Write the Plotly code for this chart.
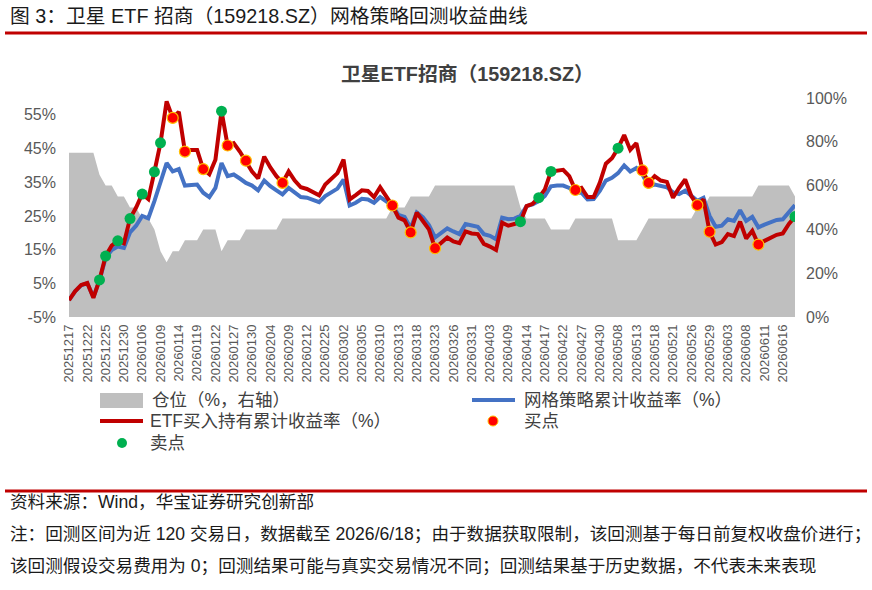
import plotly.graph_objects as go

dates = [
    "20251217", "20251218", "20251219", "20251222", "20251223", "20251224",
    "20251225", "20251226", "20251229", "20251230", "20251231", "20260105",
    "20260106", "20260107", "20260108", "20260109", "20260112", "20260113",
    "20260114", "20260115", "20260116", "20260119", "20260120", "20260121",
    "20260122", "20260123", "20260126", "20260127", "20260128", "20260129",
    "20260130", "20260202", "20260203", "20260204", "20260205", "20260206",
    "20260209", "20260210", "20260211", "20260212", "20260213", "20260224",
    "20260225", "20260226", "20260227", "20260302", "20260303", "20260304",
    "20260305", "20260306", "20260309", "20260310", "20260311", "20260312",
    "20260313", "20260316", "20260317", "20260318", "20260319", "20260320",
    "20260323", "20260324", "20260325", "20260326", "20260327", "20260330",
    "20260331", "20260401", "20260402", "20260403", "20260407", "20260408",
    "20260409", "20260410", "20260413", "20260414", "20260415", "20260416",
    "20260417", "20260420", "20260421", "20260422", "20260423", "20260424",
    "20260427", "20260428", "20260429", "20260430", "20260506", "20260507",
    "20260508", "20260511", "20260512", "20260513", "20260514", "20260515",
    "20260518", "20260519", "20260520", "20260521", "20260522", "20260525",
    "20260526", "20260527", "20260528", "20260529", "20260601", "20260602",
    "20260603", "20260604", "20260605", "20260608", "20260609", "20260610",
    "20260611", "20260612", "20260615", "20260616", "20260617", "20260618",
]

# ETF buy-and-hold cumulative return (%)
etf_return = [
    0.0, 2.6, 4.5, 5.1, 0.7, 6.0, 13.1, 16.2, 17.6, 16.9,
    24.2, 27.5, 31.5, 30.0, 38.1, 46.7, 59.0, 54.1, 55.9, 44.1,
    44.6, 44.6, 38.9, 37.4, 41.7, 56.1, 45.9, 46.6, 44.1, 41.4,
    38.2, 36.1, 42.6, 39.4, 36.8, 34.8, 38.2, 35.5, 33.5, 33.0,
    32.1, 31.1, 34.3, 36.1, 37.7, 41.7, 29.9, 31.2, 32.6, 32.4,
    30.6, 33.5, 30.9, 28.1, 24.5, 23.7, 20.1, 26.0, 23.5, 21.0,
    15.4, 17.2, 18.6, 17.4, 16.9, 20.4, 19.8, 19.6, 16.7, 15.9,
    14.9, 23.0, 22.1, 22.6, 23.3, 27.9, 28.6, 30.4, 32.9, 38.2,
    38.4, 38.7, 36.8, 32.7, 33.3, 30.6, 30.6, 34.8, 40.5, 42.1,
    45.1, 49.0, 44.6, 46.6, 38.5, 34.8, 36.8, 35.5, 35.1, 30.4,
    33.3, 35.8, 30.9, 28.2, 29.9, 20.3, 16.5, 17.2, 19.6, 19.0,
    23.3, 18.3, 20.6, 16.5, 17.6, 18.6, 19.4, 19.8, 22.6, 24.8,
]

# Grid strategy cumulative return (%)
grid_return = [
    0.0, 2.6, 4.4, 5.0, 0.9, 5.9, 12.5, 14.9, 15.9, 15.5,
    20.1, 22.1, 25.0, 24.3, 29.4, 35.3, 40.7, 38.2, 38.9, 34.0,
    34.3, 34.3, 31.9, 30.6, 33.3, 40.7, 36.8, 37.3, 36.1, 34.8,
    34.0, 32.6, 35.5, 33.8, 32.6, 31.4, 33.3, 31.9, 30.6, 30.4,
    29.9, 29.1, 30.9, 32.1, 33.1, 35.8, 28.1, 28.9, 30.1, 29.9,
    28.9, 30.6, 29.4, 28.1, 25.3, 24.7, 21.4, 26.0, 24.6, 22.3,
    18.6, 20.1, 21.3, 20.4, 19.6, 22.6, 22.1, 21.8, 19.6, 19.1,
    18.1, 24.5, 24.0, 24.2, 25.0, 27.9, 28.4, 29.4, 30.9, 33.8,
    34.0, 34.0, 33.3, 31.9, 31.9, 29.9, 30.0, 32.4, 35.5, 36.3,
    37.7, 40.0, 38.2, 39.2, 37.3, 33.8, 34.3, 33.8, 33.5, 32.0,
    31.5, 32.5, 31.0, 29.5, 30.4, 25.0, 21.8, 22.1, 24.0, 23.5,
    26.7, 23.5, 24.7, 21.6, 22.4, 23.0, 23.8, 24.0, 26.3, 28.2,
]

# Position (%, right axis)
position = [
    75, 75, 75, 75, 75, 65, 60, 60, 55, 55,
    50, 50, 45, 45, 40, 30, 25, 30, 30, 35,
    35, 35, 40, 40, 40, 30, 35, 35, 35, 40,
    40, 40, 40, 40, 40, 45, 45, 45, 45, 45,
    45, 45, 45, 45, 45, 45, 45, 45, 45, 45,
    45, 45, 45, 50, 50, 50, 55, 55, 55, 55,
    60, 60, 60, 60, 60, 60, 60, 60, 60, 60,
    60, 60, 60, 60, 50, 45, 45, 45, 45, 40,
    40, 40, 40, 45, 45, 45, 45, 45, 45, 45,
    35, 35, 35, 35, 40, 45, 45, 45, 45, 45,
    45, 45, 45, 50, 50, 55, 55, 55, 55, 55,
    55, 55, 55, 60, 60, 60, 60, 60, 60, 55,
]

buy_idx = [17, 19, 22, 26, 29, 35, 53, 56, 60, 83, 94, 95, 103, 105, 113]
sell_idx = [5, 6, 8, 10, 12, 14, 15, 25, 74, 77, 79, 90, 119]

tick_labels = dates[::3]
left_ticks = [-5, 5, 15, 25, 35, 45, 55]
right_ticks = [0, 20, 40, 60, 80, 100]

# ---- page geometry (pixels) ----
W, H = 872, 590
PL, PR, PT, PB = 69, 795, 98, 317


def px(x):
    return (x - PL) / (PR - PL)


def py(y):
    return (PB - y) / (PB - PT)


CJK = "Liberation Sans, Noto Sans CJK SC, sans-serif"
RED = "#C00000"
BLUE = "#4472C4"
GRAY = "#BFBFBF"

fig = go.Figure()

fig.add_trace(go.Scatter(
    x=dates, y=position, mode="none", fill="tozeroy", fillcolor=GRAY,
    yaxis="y", name="仓位（%，右轴）", showlegend=False,
))
fig.add_trace(go.Scatter(
    x=dates, y=grid_return, mode="lines", line=dict(color=BLUE, width=4),
    yaxis="y2", name="网格策略累计收益率（%）", showlegend=False,
))
fig.add_trace(go.Scatter(
    x=dates, y=etf_return, mode="lines", line=dict(color=RED, width=4),
    yaxis="y2", name="ETF买入持有累计收益率（%）", showlegend=False,
))
fig.add_trace(go.Scatter(
    x=[dates[i] for i in buy_idx], y=[etf_return[i] for i in buy_idx],
    mode="markers", yaxis="y2", name="买点", showlegend=False,
    marker=dict(color="#FF0000", size=11, line=dict(color="#FFC000", width=1.2)),
))
fig.add_trace(go.Scatter(
    x=[dates[i] for i in sell_idx], y=[etf_return[i] for i in sell_idx],
    mode="markers", yaxis="y2", name="卖点", showlegend=False,
    marker=dict(color="#00B050", size=11, line=dict(width=0)),
))

shapes = []
annotations = []

# header / footer red rules
for yy in (33, 491):
    shapes.append(dict(type="line", xref="paper", yref="paper",
                       x0=px(5), x1=px(867), y0=py(yy), y1=py(yy),
                       line=dict(color=RED, width=3)))

annotations.append(dict(
    text="图 3：卫星 ETF 招商（159218.SZ）网格策略回测收益曲线",
    x=px(8), y=py(16), xref="paper", yref="paper", xanchor="left", yanchor="middle",
    showarrow=False, font=dict(family=CJK, size=19.8, color="#1a1a1a")))

annotations.append(dict(
    text="<b>卫星ETF招商（159218.SZ）</b>",
    x=px(468), y=py(74), xref="paper", yref="paper", xanchor="center", yanchor="middle",
    showarrow=False, font=dict(family=CJK, size=19.8, color="#404040")))

footer = [
    ("资料来源：Wind，华宝证券研究创新部", 502),
    ("注：回测区间为近 120 交易日，数据截至 2026/6/18；由于数据获取限制，该回测基于每日前复权收盘价进行；", 534),
    ("该回测假设交易费用为 0；回测结果可能与真实交易情况不同；回测结果基于历史数据，不代表未来表现", 566),
]
for txt, yy in footer:
    annotations.append(dict(
        text=txt, x=px(8), y=py(yy), xref="paper", yref="paper",
        xanchor="left", yanchor="middle", showarrow=False,
        font=dict(family=CJK, size=17.6, color="#1a1a1a")))

# custom legend
LEG_FONT = dict(family=CJK, size=17.5, color="#404040")
shapes.append(dict(type="rect", xref="paper", yref="paper",
                   x0=px(100), x1=px(143), y0=py(393), y1=py(408),
                   fillcolor=GRAY, line=dict(width=0)))
shapes.append(dict(type="line", xref="paper", yref="paper",
                   x0=px(472), x1=px(515), y0=py(400), y1=py(400),
                   line=dict(color=BLUE, width=4)))
shapes.append(dict(type="line", xref="paper", yref="paper",
                   x0=px(100), x1=px(143), y0=py(421), y1=py(421),
                   line=dict(color=RED, width=4)))
shapes.append(dict(type="circle", xref="paper", yref="paper",
                   x0=px(488), x1=px(498), y0=py(416), y1=py(426),
                   fillcolor="#FF0000", line=dict(color="#FFC000", width=1)))
shapes.append(dict(type="circle", xref="paper", yref="paper",
                   x0=px(117), x1=px(127), y0=py(438), y1=py(448),
                   fillcolor="#00B050", line=dict(width=0)))

legend_items = [
    ("仓位（%，右轴）", 150, 400),
    ("网格策略累计收益率（%）", 522, 400),
    ("ETF买入持有累计收益率（%）", 148, 421),
    ("买点", 522, 421),
    ("卖点", 148, 443),
]
for txt, xx, yy in legend_items:
    annotations.append(dict(
        text=txt, x=px(xx), y=py(yy), xref="paper", yref="paper",
        xanchor="left", yanchor="middle", showarrow=False, font=LEG_FONT))

fig.update_layout(
    width=W, height=H,
    margin=dict(l=PL, r=W - PR, t=PT, b=H - PB, pad=0),
    paper_bgcolor="white", plot_bgcolor="white",
    showlegend=False,
    xaxis=dict(
        type="category", categoryorder="array", categoryarray=dates,
        range=[0, len(dates) - 1],
        tickmode="array", tickvals=tick_labels, ticktext=tick_labels,
        tickangle=-90, tickfont=dict(family="Liberation Sans", size=13, color="#595959"),
        showgrid=False, showline=False, zeroline=False, ticks="",
        ticklabelstandoff=4,
    ),
    yaxis=dict(
        side="right", range=[0, 100], tickmode="array",
        tickvals=right_ticks, ticktext=[f"{v}%" for v in right_ticks],
        tickfont=dict(family="Liberation Sans", size=16, color="#595959"),
        showgrid=False, zeroline=False, showline=False, ticks="",
        ticklabelstandoff=10,
    ),
    yaxis2=dict(
        overlaying="y", side="left", range=[-5, 60], tickmode="array",
        tickvals=left_ticks, ticktext=[f"{v}%" for v in left_ticks],
        tickfont=dict(family="Liberation Sans", size=16, color="#595959"),
        showgrid=False, zeroline=False, showline=False, ticks="",
        ticklabelstandoff=12,
    ),
    shapes=shapes,
    annotations=annotations,
)

fig.write_html("out.html")
